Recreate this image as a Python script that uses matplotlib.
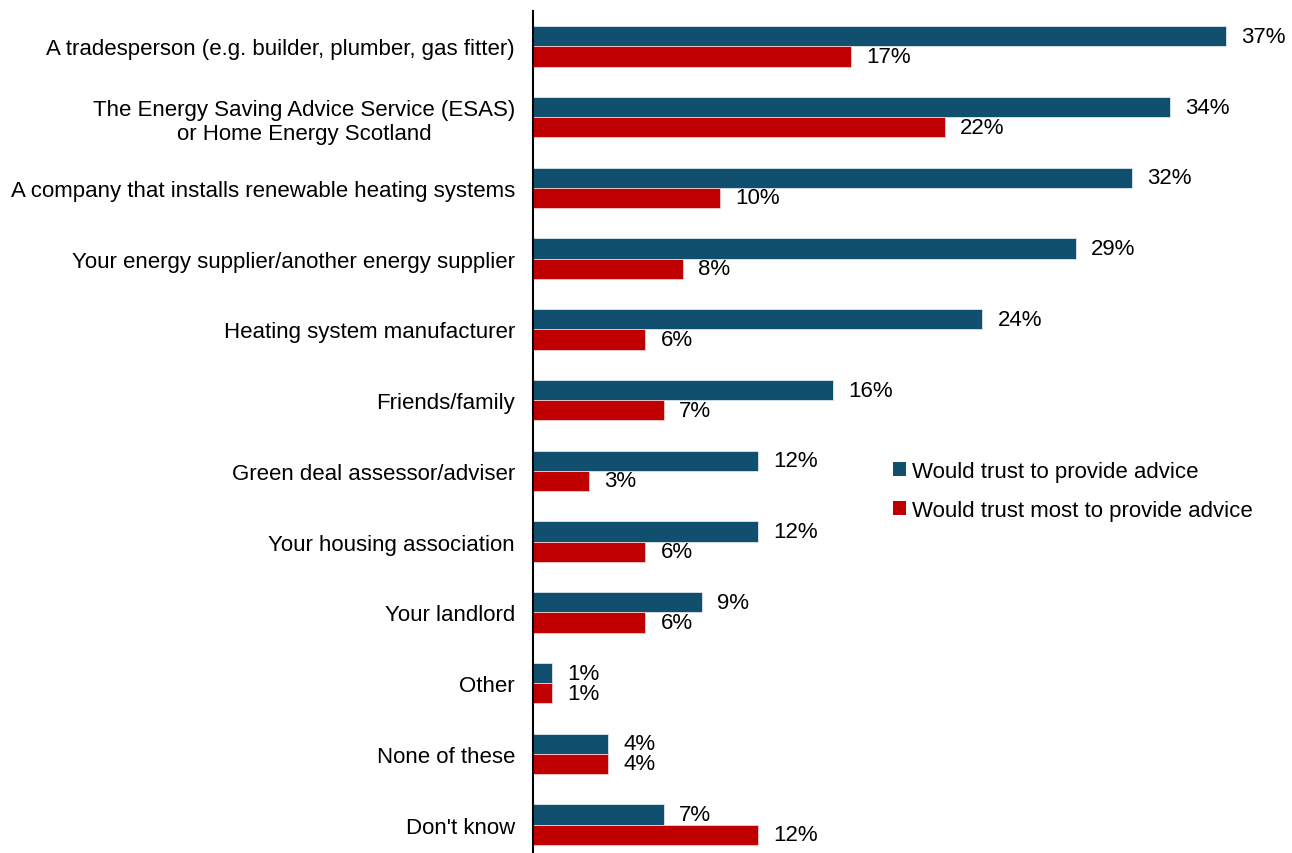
import matplotlib.pyplot as plt
import numpy as np
from matplotlib.patches import Patch

plt.rcParams['font.family'] = ['Liberation Sans', 'DejaVu Sans']

categories = [
    "A tradesperson (e.g. builder, plumber, gas fitter)",
    "The Energy Saving Advice Service (ESAS)\nor Home Energy Scotland",
    "A company that installs renewable heating systems",
    "Your energy supplier/another energy supplier",
    "Heating system manufacturer",
    "Friends/family",
    "Green deal assessor/adviser",
    "Your housing association",
    "Your landlord",
    "Other",
    "None of these",
    "Don't know",
]
trust = [37, 34, 32, 29, 24, 16, 12, 12, 9, 1, 4, 7]
trust_most = [17, 22, 10, 8, 6, 7, 3, 6, 6, 1, 4, 12]
series_names = ["Would trust to provide advice", "Would trust most to provide advice"]

blue = "#10506E"
red = "#C00000"

fig = plt.figure(figsize=(12.92, 8.54), dpi=100)
# axes runs a little past the bottom edge, so the last group sits low
ax = fig.add_axes([533 / 1292, -7 / 854, 749 / 1292, 849 / 854])

y = np.arange(len(categories))
h = 0.285
ax.barh(y - h / 2, trust, height=h, color=blue, edgecolor="#DCE6EE", linewidth=0.6)
ax.barh(y + h / 2, trust_most, height=h, color=red, edgecolor="#F2D0D0", linewidth=0.6)

fs = 16
for yi, v in zip(y, trust):
    ax.annotate(f"{v}%", (v, yi - h / 2), xytext=(11, 0), textcoords="offset points",
                ha="left", va="center", fontsize=fs, color="black")
for yi, v in zip(y, trust_most):
    ax.annotate(f"{v}%", (v, yi + h / 2), xytext=(11, 0), textcoords="offset points",
                ha="left", va="center", fontsize=fs, color="black")

ax.set_xlim(0, 40)
ax.set_ylim(len(categories) - 0.5, -0.5)
ax.set_yticks(y)
ax.set_yticklabels(categories, fontsize=fs, multialignment="center")
ax.tick_params(axis="y", length=0, pad=13)
ax.set_xticks([])
for s in ["top", "right", "bottom"]:
    ax.spines[s].set_visible(False)
ax.spines["left"].set_linewidth(1.5)

handles = [Patch(facecolor=blue), Patch(facecolor=red)]
fig.legend(handles, series_names, loc="upper left", bbox_to_anchor=(884 / 1292, 1 - 453 / 854),
           frameon=False, fontsize=fs, handlelength=0.6, handleheight=0.6, handletextpad=0.25,
           labelspacing=0.82, borderaxespad=0)

fig.savefig("out.png", dpi=100)
